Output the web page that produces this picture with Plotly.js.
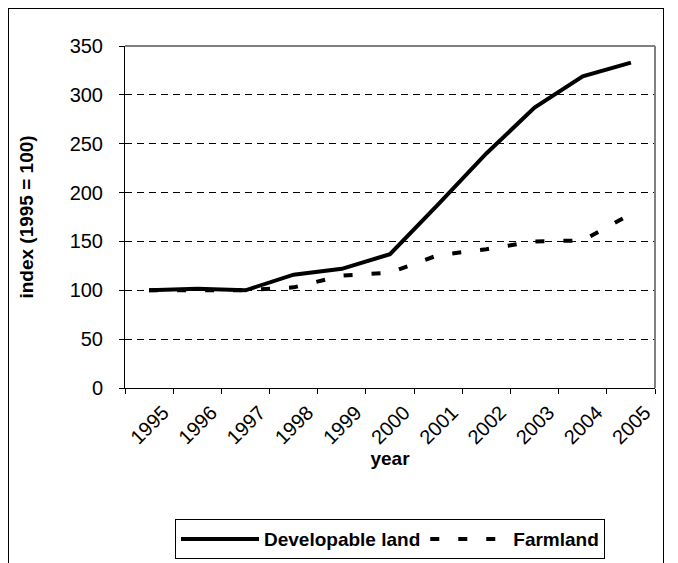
<!DOCTYPE html>
<html>
<head>
<meta charset="utf-8">
<script src="https://cdn.plot.ly/plotly-3.0.1.min.js"></script>
<style>
  html, body { margin: 0; padding: 0; background: #fff; }
  #wrap { position: relative; width: 678px; height: 563px; overflow: hidden; }
  #chart { position: absolute; left: 0; top: 0; width: 678px; height: 563px; }
  #frame { position: absolute; left: 8px; top: 8px; width: 654px; height: 570px; border: 1px solid #000; pointer-events: none; }
</style>
</head>
<body>
<div id="wrap">
  <div id="chart"></div>
  <div id="frame"></div>
</div>
<script>
const years = ["1995","1996","1997","1998","1999","2000","2001","2002","2003","2004","2005"];
const developable = [100, 101.5, 100, 116, 122, 137, 188, 240, 287, 319, 333];
const farmland = [100, 100, 100, 103, 115, 118, 136, 142, 150, 151, 178];
const yTicks = [0, 50, 100, 150, 200, 250, 300, 350];

const font = "Arial, 'Liberation Sans', sans-serif";

const traces = [
  {
    x: years, y: farmland, name: "Farmland", type: "scatter", mode: "lines",
    line: { color: "#000", width: 4, dash: "9px,19px" }, legendrank: 2
  },
  {
    x: years, y: developable, name: "Developable land", type: "scatter", mode: "lines",
    line: { color: "#000", width: 4 }, legendrank: 1
  }
];

const layout = {
  width: 678, height: 563,
  margin: { l: 125, r: 23, t: 46, b: 175, autoexpand: false },
  paper_bgcolor: "#fff", plot_bgcolor: "#fff",
  font: { family: font, size: 20, color: "#000" },
  showlegend: true,
  legend: {
    orientation: "h", x: 0.5, xanchor: "center",
    yref: "container", y: 0.078, yanchor: "top",
    bordercolor: "#000", borderwidth: 1,
    itemwidth: 78,
    font: { family: font, size: 19, color: "#000", weight: "bold" },
    traceorder: "normal"
  },
  xaxis: {
    type: "category", range: [-0.5, 10.5],
    tickson: "boundaries", ticks: "outside", ticklen: 5, tickcolor: "#000",
    tickangle: -45, ticklabelstandoff: 4, ticklabelshift: 14,
    showline: true, linecolor: "#000", linewidth: 1,
    showgrid: false, zeroline: false, automargin: false,
    tickfont: { family: font, size: 20, color: "#000" },
    title: { text: "year", font: { family: font, size: 19, color: "#000", weight: "bold" }, standoff: 2 }
  },
  yaxis: {
    range: [0, 350], tickvals: yTicks, ticktext: yTicks.map(String),
    ticks: "outside", ticklen: 5, tickcolor: "#000", ticklabelstandoff: 12,
    showline: true, linecolor: "#000", linewidth: 1,
    showgrid: true, gridcolor: "#000", griddash: "7px,5px", gridwidth: 1,
    zeroline: false, automargin: false,
    tickfont: { family: font, size: 20, color: "#000" },
    title: { text: "index (1995 = 100)", font: { family: font, size: 19, color: "#000", weight: "bold" }, standoff: 30 }
  },
  shapes: [
    { type: "line", xref: "paper", yref: "paper", x0: 0, x1: 1, y0: 1, y1: 1, line: { color: "#808080", width: 2 } },
    { type: "line", xref: "paper", yref: "paper", x0: 1, x1: 1, y0: 0, y1: 1, line: { color: "#808080", width: 2 } }
  ]
};

Plotly.newPlot("chart", traces, layout, { displayModeBar: false, staticPlot: true });
</script>
</body>
</html>
